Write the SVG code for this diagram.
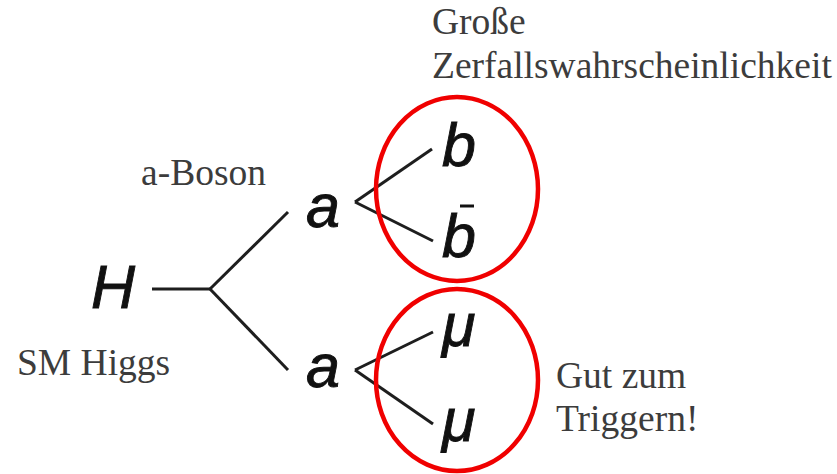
<svg xmlns="http://www.w3.org/2000/svg" width="837" height="474" viewBox="0 0 837 474">
  <style>
    .note { font-family: "Liberation Serif", "Times New Roman", serif; font-size: 37.5px; fill: #3c3c3c; }
    .sym { font-family: "Liberation Sans", Arial, sans-serif; font-style: italic; font-size: 61px; fill: #111; stroke: #111; stroke-width: 0.9; }
    .edge { stroke: #1e1e1e; stroke-width: 3; fill: none; stroke-linecap: butt; }
    .ring { stroke: #f00000; stroke-width: 4.5; fill: none; }
  </style>
  <rect width="837" height="474" fill="#fff"/>

  <!-- decay lines -->
  <g id="connectors">
    <line class="edge" x1="152" y1="289" x2="210" y2="289"/>
    <line class="edge" x1="210" y1="289" x2="288" y2="212"/>
    <line class="edge" x1="210" y1="289" x2="288" y2="370"/>
    <line class="edge" x1="432" y1="149" x2="355" y2="202"/>
    <line class="edge" x1="355" y1="202" x2="433" y2="241"/>
    <line class="edge" x1="433" y1="332" x2="355" y2="370"/>
    <line class="edge" x1="355" y1="370" x2="433" y2="424"/>
  </g>

  <g id="higgs"><text class="sym" x="91" y="308" font-size="62">H</text></g>
  <g id="a-upper"><text class="sym" x="306" y="227">a</text></g>
  <g id="a-lower"><text class="sym" x="306" y="387">a</text></g>
  <g id="b"><text class="sym" x="442" y="166">b</text></g>
  <g id="b-bar">
    <text class="sym" x="442" y="257">b</text>
    <line x1="460" y1="206" x2="474" y2="206" stroke="#111" stroke-width="3"/>
  </g>
  <g id="mu-1"><text class="sym" x="442" y="346">μ</text></g>
  <g id="mu-2"><text class="sym" x="442" y="441">μ</text></g>

  <!-- highlight rings -->
  <g id="ring-bb"><ellipse class="ring" cx="457" cy="189" rx="81" ry="92"/></g>
  <g id="ring-mumu"><ellipse class="ring" cx="457" cy="380" rx="81" ry="91"/></g>

  <!-- annotations -->
  <g id="label-zerfall">
    <text class="note" x="432" y="34">Große</text>
    <text class="note" x="432" y="78">Zerfallswahrscheinlichkeit</text>
  </g>
  <g id="label-aboson"><text class="note" x="141" y="185">a-Boson</text></g>
  <g id="label-sm"><text class="note" x="17" y="375">SM Higgs</text></g>
  <g id="label-trigger">
    <text class="note" x="556" y="388">Gut zum</text>
    <text class="note" x="556" y="431">Triggern!</text>
  </g>
</svg>
